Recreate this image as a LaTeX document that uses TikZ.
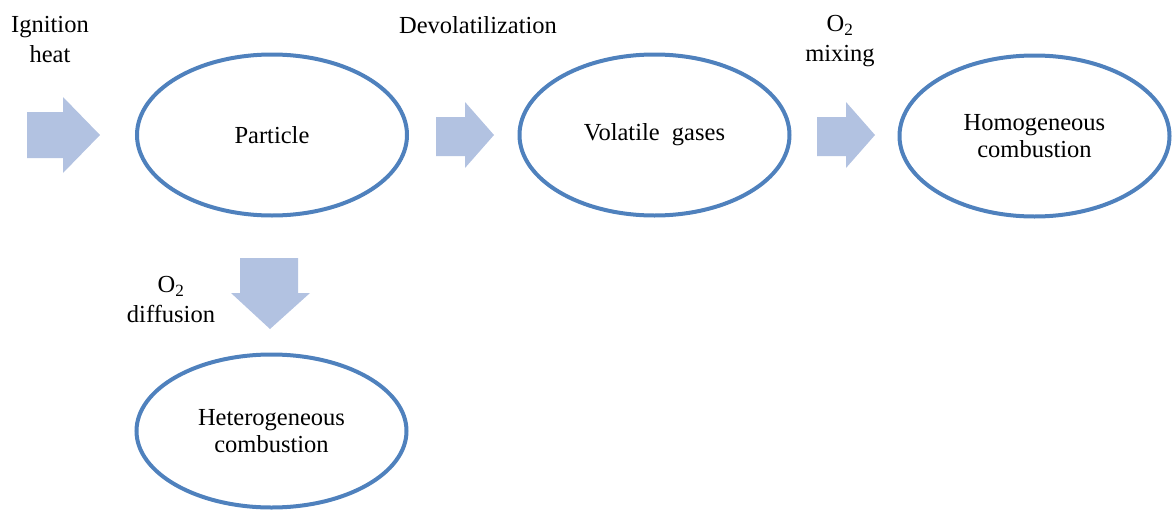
\documentclass[tikz,border=0pt]{standalone}
\usepackage{fontspec}
\setmainfont{Liberation Serif}
\usetikzlibrary{shapes.geometric}
\definecolor{ringc}{RGB}{79,129,189}
\definecolor{arrowc}{RGB}{178,194,225}
\begin{document}
\begin{tikzpicture}[x=1pt,y=-1pt,
  ring/.style={ellipse, draw=ringc, line width=4pt, minimum width=270pt, minimum height=161pt, inner sep=0pt, align=center, font=\fontsize{24.5}{27}\selectfont},
  lbl/.style={align=center, inner sep=0pt, font=\fontsize{24.5}{30}\selectfont},
  blockarrow/.style={fill=arrowc, draw=none}]
\useasboundingbox (0,0) rectangle (1173,514);
\node[ring] (particle) at (272,135) {Particle};
\node[ring] (volatile) at (654.5,135) {Volatile\ \ gases};
\node[ring] (homo) at (1034.5,136) {Homogeneous\\combustion};
\node[ring, minimum height=153pt] (hetero) at (271.5,431) {\raisebox{-3pt}{\shortstack{Heterogeneous\\[1pt]combustion}}};
\node[lbl] (ign) at (50,40) {Ignition\\heat};
\node[lbl] (devol) at (478,25) {Devolatilization};
\node[lbl] (mix) at (840,41) {O\textsubscript{2}\\mixing};
\node[lbl] (diff) at (171,300) {O\textsubscript{2}\\diffusion};
% block arrows
\fill[blockarrow] (27,112) -- (63,112) -- (63,97) -- (100,135) -- (63,173) -- (63,158) -- (27,158) -- cycle;
\fill[blockarrow] (436,117) -- (465,117) -- (465,102) -- (494,135) -- (465,168) -- (465,156) -- (436,156) -- cycle;
\fill[blockarrow] (817,117) -- (846,117) -- (846,102) -- (875,135) -- (846,168) -- (846,156) -- (817,156) -- cycle;
\fill[blockarrow] (240,258) -- (298,258) -- (298,293) -- (310,293) -- (270,329) -- (231,293) -- (240,293) -- cycle;
\end{tikzpicture}
\end{document}
